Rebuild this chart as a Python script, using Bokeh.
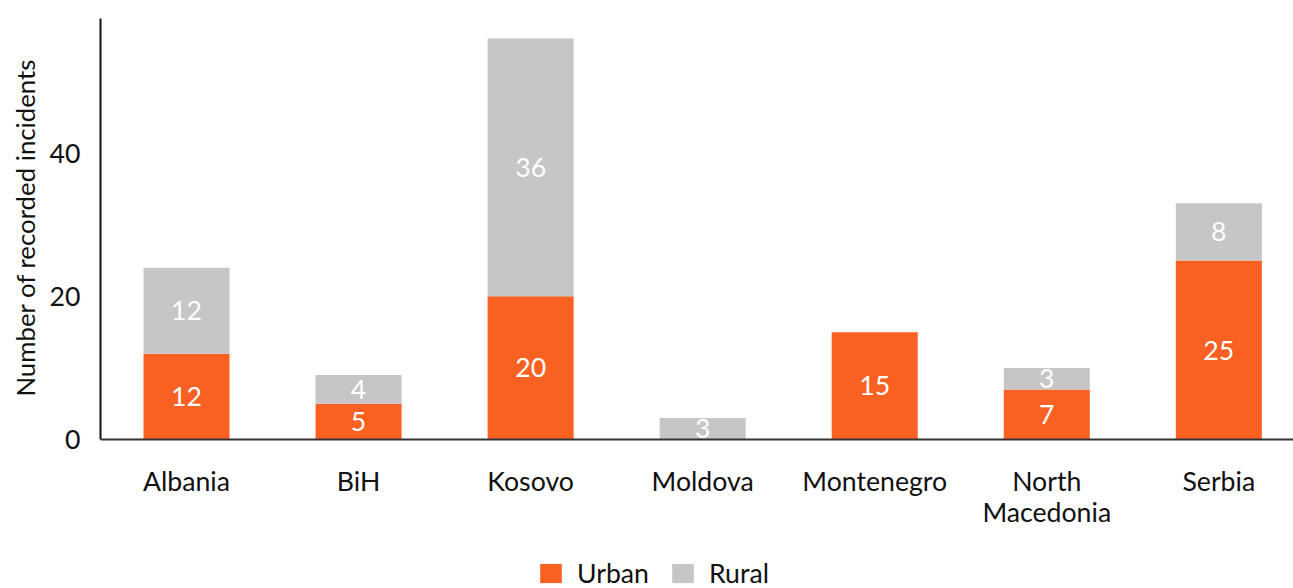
from bokeh.plotting import figure
from bokeh.models import ColumnDataSource, Legend, LegendItem, Span, Title, Range1d
from bokeh.embed import file_html
from bokeh.resources import INLINE
from bokeh.core.properties import value

countries = ["Albania", "BiH", "Kosovo", "Moldova", "Montenegro", "North Macedonia", "Serbia"]
label_line1 = ["Albania", "BiH", "Kosovo", "Moldova", "Montenegro", "North", "Serbia"]
label_line2 = ["", "", "", "", "", "Macedonia", ""]
urban = [12, 5, 20, 0, 15, 7, 25]
rural = [12, 4, 36, 3, 0, 3, 8]
y_ticks = [0, 20, 40]
y_top = 58.8

ORANGE = "#F96122"
GREY = "#C6C6C6"
FONT = "Lato"
INK = "#111111"
FS = "20pt"

# category slots (the last slot runs a little past the page edge, as in the source)
xpos = [i + 0.5 for i in range(len(countries))]
src = ColumnDataSource(dict(x=xpos, country=countries, Urban=urban, Rural=rural))

# frame extends below zero so the category names and legend can sit inside it
p = figure(x_range=Range1d(0, 6.934), y_range=(-20.8, y_top), width=1293, height=588,
           output_backend="svg", toolbar_location=None,
           min_border_left=99, min_border_right=0, min_border_top=18,
           min_border_bottom=0)
p.outline_line_color = None
p.grid.grid_line_color = None
p.xaxis.visible = False

rs = p.vbar_stack(["Urban", "Rural"], x="x", width=0.5, source=src,
                  color=[ORANGE, GREY], line_color=None)

# baseline (x axis line)
p.add_layout(Span(location=0, dimension="width", line_color="#333333",
                  line_width=2))

# value labels
lab_x, lab_y, lab_t = [], [], []
for xx, u, r in zip(xpos, urban, rural):
    if u > 0:
        lab_x.append(xx); lab_y.append(u / 2); lab_t.append(str(u))
    if r > 0:
        lab_x.append(xx); lab_y.append(u + r / 2); lab_t.append(str(r))
lsrc = ColumnDataSource(dict(x=lab_x, y=lab_y, t=lab_t))
p.text(x="x", y="y", text="t", source=lsrc, text_color="white",
       text_font=value(FONT), text_font_size=FS,
       text_align="center", text_baseline="middle")

# category names (two lines where needed)
csrc = ColumnDataSource(dict(x=xpos, y=[0] * len(countries),
                             l1=label_line1, l2=label_line2))
p.text(x="x", y="y", text="l1", source=csrc, text_color=INK,
       text_font=value(FONT), text_font_size=FS, y_offset=41,
       text_align="center", text_baseline="middle")
p.text(x="x", y="y", text="l2", source=csrc, text_color=INK,
       text_font=value(FONT), text_font_size=FS, y_offset=72,
       text_align="center", text_baseline="middle")

p.yaxis.ticker = y_ticks
p.yaxis.bounds = (0, y_top)
p.yaxis.major_label_text_font = FONT
p.yaxis.major_label_text_font_size = FS
p.yaxis.major_label_text_color = INK
p.yaxis.major_label_standoff = 14
p.yaxis.major_tick_line_color = None
p.yaxis.minor_tick_line_color = None
p.yaxis.axis_line_color = INK
p.yaxis.axis_line_width = 2

# y axis title, placed over the 0..top span of the axis
ytitle = Title(text="Number of recorded incidents", align="right", offset=40,
               text_font=FONT, text_font_size="25.8px", text_font_style="normal",
               text_color=INK, standoff=14)
p.add_layout(ytitle, "left")

legend = Legend(items=[LegendItem(label="Urban", renderers=[rs[0]]),
                       LegendItem(label="Rural", renderers=[rs[1]])],
                orientation="horizontal", location=(437, -1),
                label_text_font=FONT, label_text_font_size=FS,
                label_text_color=INK, label_standoff=13,
                glyph_width=27, glyph_height=24, spacing=20,
                border_line_color=None, background_fill_alpha=0,
                padding=0, margin=0)
p.add_layout(legend, "center")

open("out.html", "w").write(file_html(p, INLINE))
